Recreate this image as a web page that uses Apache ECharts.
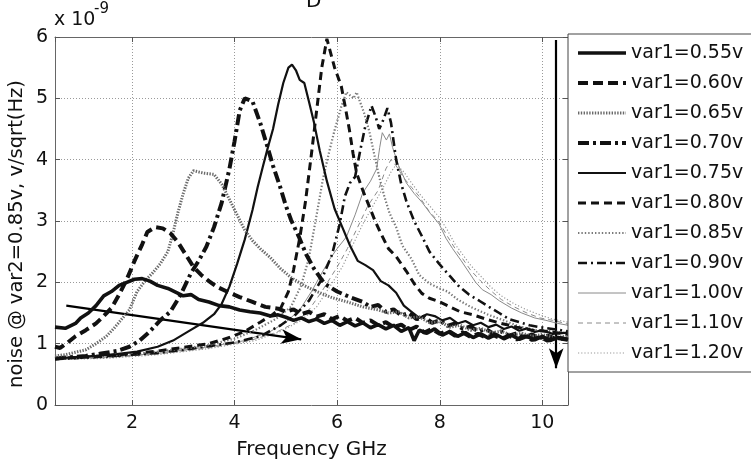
<!DOCTYPE html>
<html>
<head>
<meta charset="utf-8">
<script src="https://cdn.jsdelivr.net/npm/echarts@6/dist/echarts.min.js"></script>
<style>
  html, body { margin: 0; padding: 0; background: #fff; }
  #chart { width: 751px; height: 466px; }
</style>
</head>
<body>
<div id="chart"></div>
<script>
// Noise spectral density (x 1e-9 V/sqrt(Hz)) versus frequency (GHz), one curve per var1 bias
const seriesNames = ['var1=0.55v', 'var1=0.60v', 'var1=0.65v', 'var1=0.70v', 'var1=0.75v',
  'var1=0.80v', 'var1=0.85v', 'var1=0.90v', 'var1=1.00v', 'var1=1.10v', 'var1=1.20v'];

const v055 = [[0.5,1.27],[0.7,1.25],[0.9,1.33],[1.0,1.42],[1.15,1.5],[1.3,1.62],[1.45,1.78],[1.6,1.85],[1.75,1.95],[1.9,2.0],
  [2.05,2.05],[2.2,2.06],[2.35,2.02],[2.5,1.95],[2.7,1.9],[2.85,1.84],[3.0,1.78],[3.15,1.8],[3.3,1.72],[3.5,1.68],
  [3.7,1.62],[3.9,1.6],[4.1,1.55],[4.3,1.52],[4.5,1.5],[4.7,1.45],[4.85,1.47],[5.0,1.43],[5.15,1.38],[5.3,1.42],
  [5.45,1.36],[5.6,1.4],[5.75,1.33],[5.9,1.38],[6.05,1.3],[6.2,1.36],[6.35,1.29],[6.5,1.34],[6.65,1.26],[6.8,1.31],
  [6.95,1.24],[7.1,1.3],[7.25,1.2],[7.4,1.26],[7.5,1.05],[7.6,1.22],[7.75,1.17],[7.9,1.24],[8.05,1.14],[8.2,1.2],
  [8.35,1.12],[8.5,1.18],[8.65,1.1],[8.8,1.16],[8.95,1.09],[9.1,1.15],[9.25,1.08],[9.4,1.14],[9.55,1.07],[9.7,1.12],
  [9.85,1.06],[10.0,1.12],[10.15,1.05],[10.3,1.1],[10.5,1.07]];
const v060 = [[0.5,0.95],[0.6,0.93],[0.75,1.02],[0.9,1.12],[1.1,1.22],[1.3,1.33],[1.45,1.45],[1.6,1.58],[1.75,1.8],[1.9,2.05],
  [2.05,2.35],[2.2,2.62],[2.3,2.82],[2.45,2.9],[2.6,2.88],[2.75,2.8],[2.9,2.65],[3.05,2.45],[3.2,2.25],[3.35,2.12],
  [3.5,2.02],[3.65,1.93],[3.85,1.85],[4.1,1.76],[4.35,1.68],[4.6,1.6],[4.85,1.57],[5.0,1.52],[5.15,1.56],[5.3,1.48],
  [5.45,1.52],[5.6,1.44],[5.75,1.48],[5.9,1.4],[6.05,1.45],[6.2,1.37],[6.35,1.42],[6.5,1.34],[6.65,1.38],[6.8,1.3],
  [6.95,1.35],[7.1,1.27],[7.25,1.31],[7.4,1.22],[7.55,1.28],[7.7,1.18],[7.85,1.24],[8.0,1.16],[8.15,1.21],[8.3,1.13],
  [8.45,1.18],[8.6,1.11],[8.75,1.16],[8.9,1.1],[9.05,1.14],[9.2,1.08],[9.35,1.13],[9.5,1.07],[9.65,1.12],[9.8,1.06],
  [9.95,1.11],[10.1,1.05],[10.25,1.1],[10.5,1.06]];
const v065 = [[0.5,0.8],[0.7,0.82],[0.9,0.86],[1.1,0.9],[1.3,1.0],[1.5,1.12],[1.65,1.25],[1.8,1.4],[1.95,1.55],[2.1,1.85],
  [2.25,2.02],[2.4,2.15],[2.55,2.3],[2.7,2.5],[2.8,2.8],[2.9,3.15],[3.0,3.45],[3.1,3.7],[3.2,3.82],[3.4,3.78],
  [3.6,3.76],[3.75,3.6],[3.9,3.35],[4.05,3.1],[4.2,2.85],[4.35,2.68],[4.5,2.55],[4.7,2.4],[4.9,2.22],[5.1,2.08],
  [5.35,1.95],[5.6,1.85],[5.9,1.75],[6.2,1.68],[6.5,1.6],[6.8,1.55],[7.0,1.5],[7.2,1.52],[7.4,1.42],[7.6,1.44],
  [7.8,1.34],[8.0,1.36],[8.2,1.27],[8.4,1.3],[8.6,1.22],[8.8,1.25],[9.0,1.18],[9.2,1.2],[9.4,1.14],[9.6,1.17],
  [9.8,1.12],[10.0,1.15],[10.2,1.1],[10.5,1.12]];
const v070 = [[0.5,0.76],[0.8,0.78],[1.1,0.8],[1.4,0.84],[1.7,0.88],[1.95,0.95],[2.15,1.05],[2.35,1.2],[2.55,1.38],[2.75,1.52],
  [2.95,1.8],[3.15,2.15],[3.3,2.35],[3.45,2.58],[3.6,2.9],[3.75,3.3],[3.9,3.85],[4.0,4.3],[4.1,4.8],[4.2,5.0],
  [4.35,4.95],[4.5,4.6],[4.62,4.27],[4.75,3.9],[4.88,3.58],[5.0,3.25],[5.1,3.02],[5.25,2.75],[5.4,2.45],[5.55,2.22],
  [5.75,1.98],[6.0,1.85],[6.25,1.76],[6.5,1.68],[6.65,1.6],[6.8,1.63],[6.95,1.52],[7.1,1.56],[7.25,1.46],[7.4,1.5],
  [7.55,1.4],[7.7,1.44],[7.85,1.34],[8.0,1.38],[8.15,1.29],[8.3,1.33],[8.45,1.24],[8.6,1.28],[8.75,1.2],[8.9,1.24],
  [9.05,1.16],[9.2,1.2],[9.35,1.13],[9.5,1.17],[9.65,1.1],[9.8,1.15],[9.95,1.09],[10.1,1.13],[10.3,1.07],[10.5,1.1]];
const v075 = [[0.5,0.76],[0.9,0.78],[1.3,0.8],[1.7,0.83],[2.1,0.87],[2.5,0.95],[2.8,1.05],[3.1,1.2],[3.4,1.35],[3.6,1.48],
  [3.75,1.65],[3.9,1.93],[4.05,2.3],[4.2,2.7],[4.35,3.18],[4.45,3.55],[4.55,3.88],[4.65,4.2],[4.75,4.5],[4.85,4.9],
  [4.95,5.25],[5.05,5.5],[5.12,5.55],[5.2,5.45],[5.27,5.3],[5.36,5.25],[5.45,4.95],[5.55,4.6],[5.66,4.15],[5.8,3.65],
  [5.95,3.2],[6.1,2.9],[6.25,2.6],[6.4,2.35],[6.55,2.28],[6.7,2.2],[6.85,2.02],[7.0,1.95],[7.15,1.83],[7.3,1.62],
  [7.45,1.52],[7.6,1.42],[7.75,1.48],[7.9,1.45],[8.05,1.38],[8.2,1.42],[8.35,1.33],[8.5,1.37],[8.65,1.3],[8.8,1.34],
  [8.95,1.27],[9.1,1.31],[9.25,1.24],[9.4,1.28],[9.55,1.21],[9.7,1.25],[9.85,1.19],[10.0,1.22],[10.2,1.16],[10.5,1.18]];
const v080 = [[0.5,0.75],[1.0,0.78],[1.5,0.8],[2.0,0.84],[2.5,0.88],[3.0,0.94],[3.5,1.0],[3.9,1.1],[4.2,1.2],[4.5,1.35],
  [4.75,1.48],[4.9,1.58],[5.05,1.85],[5.15,2.2],[5.27,2.72],[5.38,3.3],[5.5,4.1],[5.6,4.8],[5.7,5.5],[5.8,5.97],
  [5.87,5.75],[5.95,5.5],[6.08,5.2],[6.16,4.85],[6.24,4.48],[6.31,4.1],[6.38,3.78],[6.5,3.5],[6.63,3.23],[6.75,2.98],
  [6.85,2.8],[7.0,2.55],[7.15,2.42],[7.35,2.18],[7.5,1.98],[7.65,1.82],[7.8,1.74],[8.0,1.68],[8.2,1.6],[8.4,1.52],
  [8.65,1.47],[8.9,1.4],[9.2,1.33],[9.5,1.27],[9.8,1.22],[10.1,1.2],[10.5,1.15]];
const v085 = [[0.5,0.75],[1.0,0.77],[1.5,0.8],[2.0,0.83],[2.5,0.87],[3.0,0.92],[3.5,0.98],[4.0,1.08],[4.4,1.22],[4.8,1.4],
  [5.1,1.6],[5.3,1.95],[5.45,2.4],[5.6,3.1],[5.72,3.67],[5.85,4.15],[5.95,4.48],[6.08,4.86],[6.18,5.1],[6.25,5.05],
  [6.32,5.0],[6.38,5.1],[6.43,4.98],[6.53,4.75],[6.63,4.45],[6.72,4.1],[6.82,3.72],[6.92,3.4],[7.02,3.13],[7.15,2.9],
  [7.27,2.6],[7.45,2.38],[7.6,2.12],[7.8,1.98],[8.0,1.9],[8.15,1.85],[8.35,1.72],[8.6,1.6],[8.95,1.47],[9.25,1.38],
  [9.55,1.28],[9.9,1.22],[10.2,1.2],[10.5,1.17]];
const v090 = [[0.5,0.75],[1.0,0.77],[1.5,0.79],[2.0,0.82],[2.5,0.85],[3.0,0.9],[3.5,0.96],[4.0,1.02],[4.5,1.12],[4.9,1.3],
  [5.2,1.48],[5.45,1.7],[5.7,2.05],[5.9,2.45],[6.05,2.95],[6.15,3.4],[6.25,3.62],[6.35,3.72],[6.45,4.15],[6.55,4.55],
  [6.67,4.88],[6.75,4.7],[6.82,4.5],[6.9,4.65],[6.98,4.84],[7.05,4.6],[7.15,4.0],[7.25,3.6],[7.35,3.32],[7.5,3.0],
  [7.66,2.74],[7.8,2.5],[7.99,2.3],[8.2,2.1],[8.38,1.93],[8.57,1.8],[8.77,1.7],[8.96,1.6],[9.16,1.5],[9.35,1.4],
  [9.55,1.35],[9.75,1.3],[9.94,1.27],[10.2,1.24],[10.5,1.2]];
const v100 = [[0.5,0.75],[1.5,0.78],[2.5,0.84],[3.5,0.95],[4.2,1.05],[4.7,1.2],[5.0,1.35],[5.27,1.55],[5.5,1.85],[5.7,2.15],
  [5.85,2.37],[6.0,2.55],[6.18,2.74],[6.35,3.1],[6.5,3.46],[6.65,3.65],[6.77,3.85],[6.83,4.2],[6.88,4.44],[6.96,4.32],
  [7.02,4.42],[7.08,4.2],[7.2,3.9],[7.35,3.62],[7.5,3.45],[7.66,3.3],[7.82,3.12],[7.99,2.95],[8.12,2.72],[8.25,2.55],
  [8.42,2.35],[8.58,2.15],[8.7,2.0],[8.83,1.88],[9.0,1.8],[9.16,1.7],[9.4,1.58],[9.6,1.5],[9.85,1.42],[10.07,1.38],
  [10.3,1.33],[10.5,1.3]];
const v110 = [[0.5,0.74],[1.5,0.77],[2.5,0.83],[3.5,0.93],[4.3,1.05],[4.8,1.18],[5.2,1.35],[5.45,1.55],[5.7,1.85],[6.0,2.25],
  [6.2,2.55],[6.4,2.9],[6.6,3.25],[6.8,3.5],[6.95,3.85],[7.05,4.0],[7.15,3.9],[7.3,3.7],[7.45,3.55],[7.6,3.4],
  [7.8,3.15],[7.99,2.98],[8.15,2.75],[8.3,2.55],[8.45,2.38],[8.6,2.2],[8.8,2.02],[9.0,1.86],[9.2,1.72],[9.45,1.6],
  [9.7,1.5],[9.95,1.42],[10.2,1.38],[10.5,1.32]];
const v120 = [[0.5,0.74],[1.5,0.76],[2.5,0.82],[3.5,0.92],[4.4,1.05],[4.9,1.2],[5.3,1.38],[5.6,1.6],[5.85,1.92],[6.1,2.25],
  [6.3,2.6],[6.5,2.95],[6.7,3.25],[6.9,3.55],[7.05,3.8],[7.15,3.92],[7.3,3.8],[7.45,3.62],[7.6,3.45],[7.8,3.25],
  [8.0,3.05],[8.15,2.85],[8.3,2.62],[8.45,2.45],[8.6,2.28],[8.8,2.1],[9.0,1.92],[9.2,1.78],[9.45,1.65],[9.7,1.55],
  [9.95,1.47],[10.2,1.4],[10.5,1.35]];

const curves = [v055, v060, v065, v070, v075, v080, v085, v090, v100, v110, v120];

// Tick labels
const xTicks = [2, 4, 6, 8, 10];
const yTicks = [0, 1, 2, 3, 4, 5, 6];

// Text
const xTitle = 'Frequency GHz';
const yTitle = 'noise @ var2=0.85v, v/sqrt(Hz)';
const panelTitle = 'D';

// Annotation arrows, in data units (GHz, 1e-9)
const trendArrow = [[0.72, 1.62], [5.3, 1.07]];
const downArrow = [[10.27, 5.95], [10.27, 0.6]];

// Line appearance for each curve
const lineStyles = [
  { color: '#111', width: 3.6, type: 'solid' },
  { color: '#111', width: 4, type: [10, 5] },
  { color: '#6a6a6a', width: 3, type: [1.4, 1.4] },
  { color: '#111', width: 4, type: [11, 4, 3, 4] },
  { color: '#111', width: 2.2, type: 'solid' },
  { color: '#111', width: 3, type: [8, 5] },
  { color: '#7a7a7a', width: 2.2, type: [1.4, 2] },
  { color: '#111', width: 2.6, type: [9, 4, 2, 4] },
  { color: '#8a8a8a', width: 1, type: 'solid' },
  { color: '#8a8a8a', width: 1, type: [5, 4] },
  { color: '#999', width: 1.2, type: [1.2, 2] }
];

const FONT = 'DejaVu Sans';

const series = curves.map((pts, i) => ({
  name: seriesNames[i],
  type: 'line',
  data: pts,
  symbol: 'none',
  smooth: false,
  silent: true,
  animation: false,
  lineStyle: lineStyles[i],
  itemStyle: { color: lineStyles[i].color },
  z: 2 + (curves.length - i)
}));

// Arrows drawn through the axes via a markLine on an empty series
series.push({
  type: 'line',
  data: [],
  symbol: 'none',
  silent: true,
  animation: false,
  markLine: {
    silent: true,
    animation: false,
    symbol: ['none', 'arrow'],
    symbolSize: [11, 20],
    label: { show: false },
    lineStyle: { color: '#000', width: 2.2, type: 'solid' },
    emphasis: { disabled: true },
    data: [
      [{ coord: trendArrow[0] }, { coord: trendArrow[1] }],
      [{ coord: downArrow[0] }, { coord: downArrow[1] }]
    ]
  },
  z: 20
});

const chart = echarts.init(document.getElementById('chart'), null, { renderer: 'canvas' });

const gridLine = { show: true, lineStyle: { color: '#9a9a9a', width: 1, type: [1, 2] } };
const frameLine = { show: true, onZero: false, lineStyle: { color: '#666', width: 1 } };
const innerTick = { show: true, inside: true, length: 5, lineStyle: { color: '#555' } };

chart.setOption({
  animation: false,
  backgroundColor: '#fff',
  grid: { left: 55, top: 37, right: 183, bottom: 61, containLabel: false, outerBoundsMode: 'none', show: false },
  xAxis: [
    {
      type: 'value', min: 0.5, max: 10.5, splitNumber: 5,
      position: 'bottom',
      name: xTitle, nameLocation: 'middle', nameGap: 35,
      nameTextStyle: { fontFamily: FONT, fontSize: 20, color: '#111' },
      axisLine: frameLine,
      axisTick: innerTick,
      axisLabel: { show: true, margin: 9, fontFamily: FONT, fontSize: 19, color: '#111',
                   formatter: v => (xTicks.indexOf(v) >= 0 ? String(v) : '') },
      splitLine: gridLine
    },
    {
      type: 'value', min: 0.5, max: 10.5, splitNumber: 5,
      position: 'top',
      axisLine: frameLine,
      axisTick: innerTick,
      axisLabel: { show: false },
      splitLine: { show: false }
    }
  ],
  yAxis: [
    {
      type: 'value', min: 0, max: 6, interval: 1,
      position: 'left',
      axisLine: frameLine,
      axisTick: innerTick,
      axisLabel: { show: true, margin: 7, fontFamily: FONT, fontSize: 19, color: '#111',
                   formatter: v => (yTicks.indexOf(v) >= 0 ? String(v) : '') },
      splitLine: gridLine
    },
    {
      type: 'value', min: 0, max: 6, interval: 1,
      position: 'right',
      axisLine: frameLine,
      axisTick: innerTick,
      axisLabel: { show: false },
      splitLine: { show: false }
    }
  ],
  legend: {
    show: true,
    orient: 'vertical',
    left: 568, top: 34,
    padding: [9, 10, 9, 8],
    itemGap: 10,
    itemWidth: 48,
    itemHeight: 14,
    backgroundColor: '#fff',
    borderColor: '#444',
    borderWidth: 1,
    borderRadius: 0,
    selectedMode: false,
    data: seriesNames,
    textStyle: { fontFamily: FONT, fontSize: 19, lineHeight: 20, color: '#111' },
    lineStyle: { width: 'inherit', type: 'inherit', color: 'inherit' },
    itemStyle: { opacity: 0, color: 'rgba(0,0,0,0)', borderWidth: 0 },
    z: 10
  },
  graphic: [
    { type: 'text', left: 306, top: -8, style: { text: panelTitle, fontFamily: FONT, fontSize: 20, fill: '#111' } },
    { type: 'text', left: 54, top: 11, style: { text: 'x 10', fontFamily: FONT, fontSize: 19, fill: '#111' } },
    { type: 'text', left: 94, top: 2, style: { text: '-9', fontFamily: FONT, fontSize: 15, fill: '#111' } },
    { type: 'text', x: 17, y: 234, rotation: Math.PI / 2,
      style: { text: yTitle, fontFamily: FONT, fontSize: 19.5, fill: '#111', align: 'center', verticalAlign: 'middle' } }
  ],
  series: series
});
</script>
</body>
</html>
